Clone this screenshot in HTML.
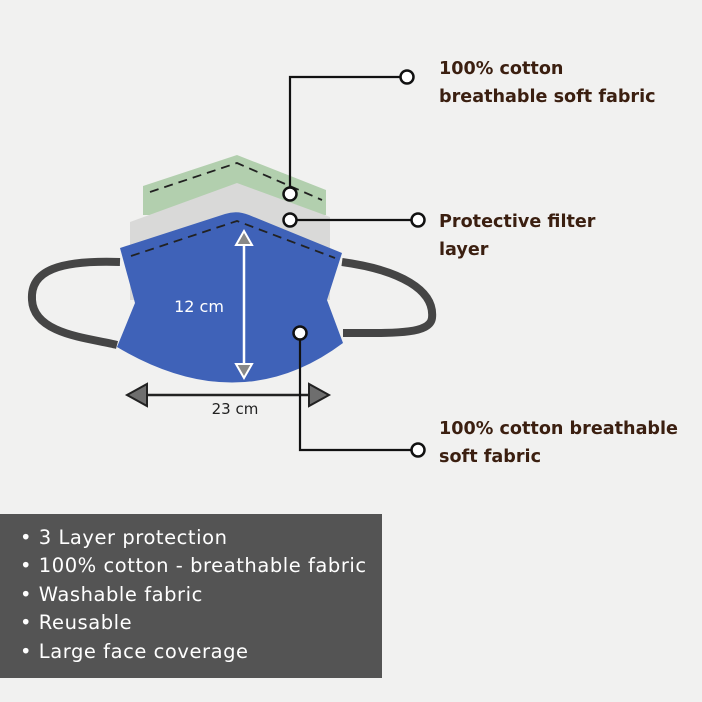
<!DOCTYPE html>
<html><head><style>
body{margin:0;width:702px;height:702px;background:#f1f1f0;overflow:hidden;position:relative;font-family:"DejaVu Sans","Liberation Sans",sans-serif}
.lbl{position:absolute;left:439px;color:#3b1f10;font-weight:bold;font-size:17.6px;line-height:28px;font-family:"DejaVu Sans",sans-serif}
.box{position:absolute;left:0;top:514px;width:382px;height:164px;background:#545454;color:#fff;font-size:19.5px;letter-spacing:0.55px}
.box div{position:absolute;left:20px;white-space:nowrap}
</style></head><body>
<svg width="702" height="702" style="position:absolute;left:0;top:0">
<polygon points="143,186 237,155 326,190 326,215 143,215" fill="#b2cfae"/>
<polygon points="130,222 237,183 330,217 330,300 130,300" fill="#d9d9d8"/>
<path d="M120,262 C60,260 30,270 32,300 C34,335 90,338 117,345" fill="none" stroke="#454545" stroke-width="8"/>
<path d="M342,262 C400,270 435,290 432,318 C430,335 390,333 343,333" fill="none" stroke="#454545" stroke-width="8"/>
<path d="M120,248 L225,214 Q237,210 249,215 L342,253 L327,300 L343,343 Q240,420 117,347 L135,303 Z" fill="#3f62b8"/>
<path d="M150,192 L237,163 L322,200" fill="none" stroke="#222" stroke-width="1.8" stroke-dasharray="9,6"/>
<path d="M131,256 L237,221 L335,258" fill="none" stroke="#222" stroke-width="1.8" stroke-dasharray="9,6"/>
<line x1="244" y1="240" x2="244" y2="368" stroke="#fff" stroke-width="2.5"/>
<polygon points="244,231 236,245 252,245" fill="#888" stroke="#fff" stroke-width="2"/>
<polygon points="244,378 236,364 252,364" fill="#888" stroke="#fff" stroke-width="2"/>
<text x="199" y="312" fill="#fff" font-size="16" text-anchor="middle" font-family="DejaVu Sans,sans-serif">12 cm</text>
<line x1="140" y1="395" x2="315" y2="395" stroke="#222" stroke-width="2.5"/>
<polygon points="127,395 147,384 147,406" fill="#6e6e6e" stroke="#222" stroke-width="2"/>
<polygon points="329,395 309,384 309,406" fill="#6e6e6e" stroke="#222" stroke-width="2"/>
<text x="235" y="414" fill="#222" font-size="15" text-anchor="middle" font-family="DejaVu Sans,sans-serif">23 cm</text>
<g fill="none" stroke="#111" stroke-width="2.2">
<polyline points="290,187 290,77 400,77"/>
<line x1="297" y1="220" x2="411" y2="220"/>
<polyline points="300,340 300,450 411,450"/>
</g>
<g fill="#fff" stroke="#111" stroke-width="2.5">
<circle cx="290" cy="194" r="6.5"/><circle cx="407" cy="77" r="6.5"/>
<circle cx="290" cy="220" r="6.5"/><circle cx="418" cy="220" r="6.5"/>
<circle cx="300" cy="333" r="6.5"/><circle cx="418" cy="450" r="6.5"/>
</g>
</svg>
<div class="lbl" style="top:55px">100% cotton<br>breathable soft fabric</div>
<div class="lbl" style="top:208px">Protective filter<br>layer</div>
<div class="lbl" style="top:415px">100% cotton breathable<br>soft fabric</div>
<div class="box">
<div style="top:12px">• 3 Layer protection</div>
<div style="top:40px">• 100% cotton - breathable fabric</div>
<div style="top:69px">• Washable fabric</div>
<div style="top:97px">• Reusable</div>
<div style="top:126px">• Large face coverage</div>
</div>
</body></html>
